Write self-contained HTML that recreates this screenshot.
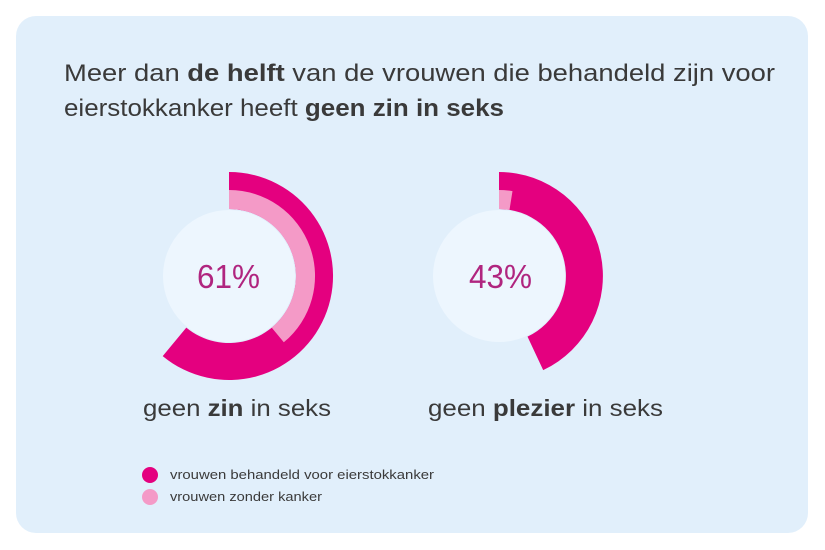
<!DOCTYPE html>
<html><head><meta charset="utf-8"><style>
body{margin:0;width:825px;height:550px;background:#fff;font-family:"Liberation Sans",sans-serif;}
</style></head><body>
<svg width="825" height="550" xmlns="http://www.w3.org/2000/svg" style="display:block">
<rect x="16" y="16" width="792" height="517" rx="20" fill="#e1effb"/>
<g font-family="Liberation Sans, sans-serif" fill="#3a3a3a">
<text x="64" y="81" font-size="24" textLength="711" lengthAdjust="spacingAndGlyphs">Meer dan <tspan font-weight="bold">de helft</tspan> van de vrouwen die behandeld zijn voor</text>
<text x="64" y="116" font-size="24" textLength="440" lengthAdjust="spacingAndGlyphs">eierstokkanker heeft <tspan font-weight="bold">geen zin in seks</tspan></text>
</g>
<path d="M229,172 A104,104 0 1 1 162.7,356.1 L186.3,327.6 A67,67 0 1 0 229,209 Z" fill="#e4007f"/>
<path d="M229,190 A86,86 0 0 1 283.8,342.3 L271.7,327.6 A67,67 0 0 0 229,209 Z" fill="#f49ac7"/>
<circle cx="229" cy="276" r="66" fill="#edf6fe"/>
<path d="M499,172 A104,104 0 0 1 543.2,370.1 L527.5,336.6 A67,67 0 0 0 499,209 Z" fill="#e4007f"/>
<path d="M499,190 A86,86 0 0 1 512.5,191.1 L509.5,209.8 A67,67 0 0 0 499,209 Z" fill="#f49ac7"/>
<circle cx="499" cy="276" r="66" fill="#edf6fe"/>
<g font-family="Liberation Sans, sans-serif">
<text x="197" y="288" font-size="33" fill="#b0257f" textLength="63" lengthAdjust="spacingAndGlyphs">61%</text>
<text x="469" y="288" font-size="33" fill="#b0257f" textLength="63" lengthAdjust="spacingAndGlyphs">43%</text>
<text x="143" y="416" font-size="23" fill="#3a3a3a" textLength="188" lengthAdjust="spacingAndGlyphs">geen <tspan font-weight="bold">zin</tspan> in seks</text>
<text x="428" y="416" font-size="23" fill="#3a3a3a" textLength="235" lengthAdjust="spacingAndGlyphs">geen <tspan font-weight="bold">plezier</tspan> in seks</text>
</g>
<circle cx="150" cy="475" r="8" fill="#e4007f"/>
<circle cx="150" cy="497" r="8" fill="#f49ac7"/>
<g font-family="Liberation Sans, sans-serif" font-size="13" fill="#3a3a3a">
<text x="170" y="479" textLength="264" lengthAdjust="spacingAndGlyphs">vrouwen behandeld voor eierstokkanker</text>
<text x="170" y="501" textLength="152" lengthAdjust="spacingAndGlyphs">vrouwen zonder kanker</text>
</g>
</svg>
</body></html>
